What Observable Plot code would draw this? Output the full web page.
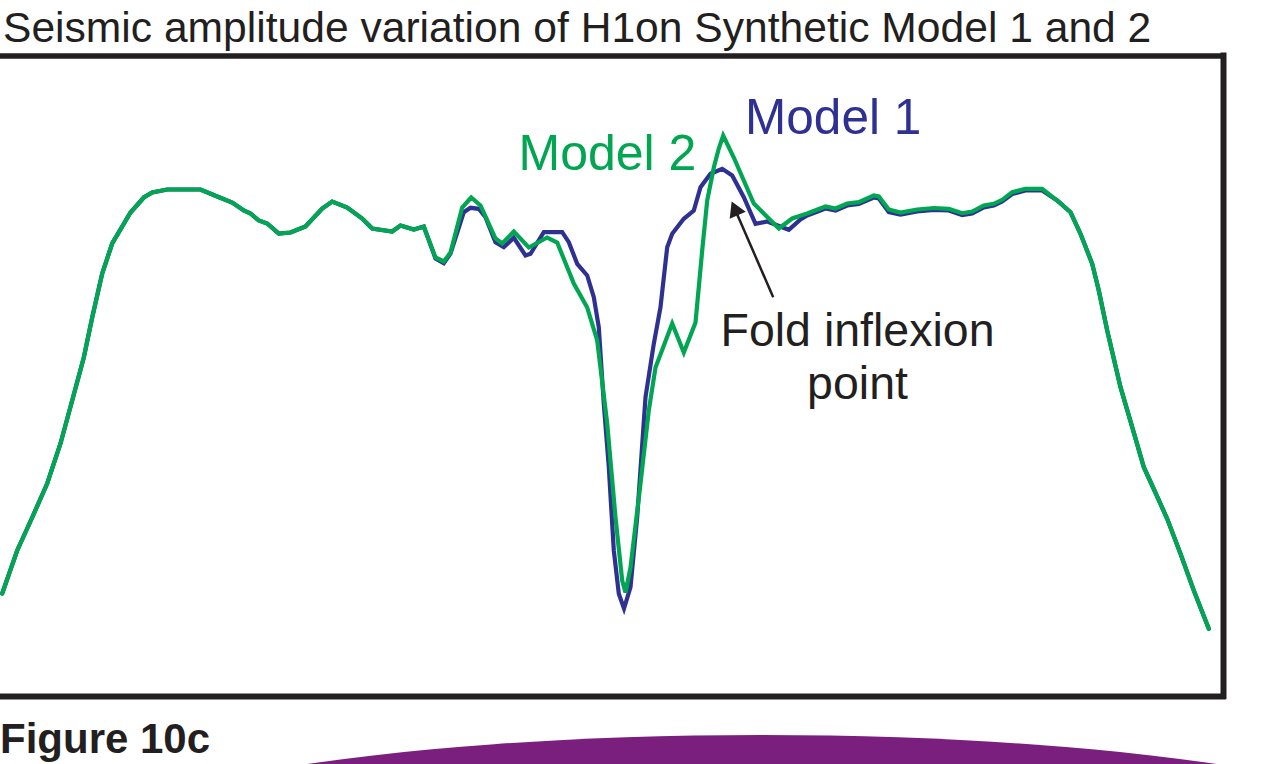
<!DOCTYPE html>
<html>
<head>
<meta charset="utf-8">
<script src="https://cdn.jsdelivr.net/npm/d3@7"></script>
<script src="https://cdn.jsdelivr.net/npm/@observablehq/plot@0.6"></script>
<style>
  html, body { margin: 0; padding: 0; width: 1261px; height: 764px; overflow: hidden; background: #fff; }
  body { position: relative; font-family: "Liberation Sans", Arial, Helvetica, sans-serif; }
  #title { position: absolute; left: 3px; top: 6px; font-size: 42.6px; line-height: 42px; color: #231F20; white-space: nowrap; }
  #fig { position: absolute; left: 0px; top: 717.5px; font-size: 42px; line-height: 42px; font-weight: bold; color: #231F20; white-space: nowrap; }
  #arc { position: absolute; left: 62px; top: 735px; width: 1400px; height: 242px; border-radius: 50%; background: #7A1F7E; }
  #chart { position: absolute; left: 0; top: 50px; }
</style>
</head>
<body>
<div id="title">Seismic amplitude variation of H1on Synthetic Model 1 and 2</div>
<div id="chart"></div>
<div id="fig">Figure 10c</div>
<div id="arc"></div>
<script>
// Distance along the section (arbitrary units) and amplitude (arbitrary units).
const sharedLeftX   = [1.7, 16.7, 31.7, 46.7, 60, 71.7, 83.3, 91.7, 101.7, 111.7, 130, 143.3, 151.7, 166.7, 200, 216.7, 231.7, 243.3, 250, 258.3, 266.7, 278.3, 290, 305, 321.7, 331.7, 346.7, 361.7, 371.7, 391.7, 400, 413.3, 423.3];
const sharedLeftAmp = [103, 146, 179, 213, 253, 296, 339, 379, 423, 453, 484, 499, 504, 507, 507, 500, 494, 486, 483, 476, 473, 463, 464, 470, 488, 495, 489, 478, 468, 465, 471, 467, 470];

const model1MidX   = [435, 443.3, 450, 463.3, 470, 478.3, 485, 495, 503.3, 513.3, 525, 530, 543.3, 561.7, 568.3, 576.7, 586.7, 593.3, 598.3, 603.3, 608.3, 613.3, 618.3, 623.5, 630, 636.7, 645, 653.3, 660, 666.7, 671.7, 683.3, 693.3, 700, 710, 721.7, 731.7, 743.3, 755, 766.7, 788.3, 800, 806.7, 825, 835, 846.7, 858.3, 873.3, 878.3, 888.3, 900, 916.7, 933.3, 948.3, 961.7, 971.7, 983.3, 993.3, 1001.7, 1011.7, 1025, 1041.7];
const model1MidAmp = [438, 433.3, 443, 484.3, 488.7, 487.7, 479.3, 454.3, 449.3, 458.7, 441, 442.7, 464.3, 464.3, 454.3, 432.7, 421, 399.3, 369.3, 292.7, 229.3, 146, 102.7, 88, 109.3, 179.3, 299.3, 352.7, 389.3, 449.3, 462.7, 477.7, 486, 509.3, 522.7, 527.7, 521, 499.3, 472.7, 475, 466.7, 477, 481, 488, 486, 491, 492.5, 499, 498, 484.5, 482, 485, 486.5, 486, 481.5, 483, 489, 491, 495, 502.5, 506, 506];

const model2MidX   = [435, 443.3, 450, 461.7, 470.7, 480, 495, 501.7, 513.3, 528.3, 546.7, 556.7, 573.3, 586.7, 596.7, 606.7, 615, 621.7, 625, 630, 640, 648.3, 655, 671.7, 683.3, 695, 701.7, 706.7, 713.3, 718.3, 722.7, 733.3, 753.3, 778.3, 791.7, 806.7, 825, 835, 846.7, 858.3, 873.3, 878.3, 888.3, 900, 916.7, 933.3, 948.3, 961.7, 971.7, 983.3, 993.3, 1001.7, 1011.7, 1025, 1041.7];
const model2MidAmp = [439, 435, 444, 489, 499, 491, 458, 453, 465, 449, 459, 454, 413, 389, 356, 273, 179, 116, 104, 129, 213, 286, 329, 373, 344, 374, 446, 496, 529, 548, 561, 539, 493, 468, 478, 483, 490, 488, 493, 494.3, 501, 500, 487, 484, 487, 488.5, 487.7, 483.3, 485, 491, 492.7, 496.7, 504.3, 507.7, 507.7];

const sharedRightX   = [1056.7, 1070, 1080, 1091.7, 1098.3, 1106.7, 1120, 1131.7, 1143.3, 1151.7, 1166.7, 1180, 1193.3, 1208.3];
const sharedRightAmp = [496, 484.3, 462.7, 432.7, 406, 366, 309.3, 269.3, 229.3, 211, 177.7, 142.7, 106, 67.7];

const labelTexts = ["Model 1", "Model 2", "Fold inflexion\npoint"];
const frameX = [0, 1223];
const frameAmp = [0, 640.5];

const rows = (xs, as) => xs.map((x, i) => ({x, a: as[i]}));
const model1 = [...rows(sharedLeftX, sharedLeftAmp), ...rows(model1MidX, model1MidAmp), ...rows(sharedRightX, sharedRightAmp)];
const model2 = [...rows(sharedLeftX, sharedLeftAmp), ...rows(model2MidX, model2MidAmp), ...rows(sharedRightX, sharedRightAmp)];

const blue = "#2E3192", green = "#00A651", ink = "#231F20";

const chart = Plot.plot({
  width: 1261,
  height: 655,
  marginLeft: 0,
  marginRight: 38,
  marginTop: 5.5,
  marginBottom: 9,
  x: {domain: frameX, axis: null},
  y: {domain: frameAmp, axis: null},
  style: {fontFamily: "'Liberation Sans', Arial, Helvetica, sans-serif", background: "transparent", overflow: "visible"},
  marks: [
    Plot.line(model1, {x: "x", y: "a", stroke: blue, strokeWidth: 4.2, strokeLinejoin: "miter", strokeMiterlimit: 6}),
    Plot.line(model2, {x: "x", y: "a", stroke: green, strokeWidth: 4.2, strokeLinejoin: "miter", strokeMiterlimit: 4}),
    Plot.link([{x1: 772.7, y1: 399.3, x2: 735, y2: 486}], {x1: "x1", y1: "y1", x2: "x2", y2: "y2", stroke: ink, strokeWidth: 2.5}),
    Plot.dot([{x: 735.2, a: 485.8}], {x: "x", y: "a", symbol: "triangle", r: 6.5, fill: ink, stroke: "none", rotate: -23.5}),
    Plot.text([{x: 744.6, a: 562.7, t: labelTexts[0]}], {x: "x", y: "a", text: "t", fill: blue, fontSize: 49.5, textAnchor: "start", lineAnchor: "bottom"}),
    Plot.text([{x: 518, a: 526.7, t: labelTexts[1]}], {x: "x", y: "a", text: "t", fill: green, fontSize: 50, textAnchor: "start", lineAnchor: "bottom"}),
    Plot.text([{x: 857, a: 298, t: labelTexts[2]}], {x: "x", y: "a", text: "t", fill: ink, fontSize: 46.5, textAnchor: "middle", lineAnchor: "bottom", lineHeight: 1.14}),
    Plot.ruleY([frameAmp[1]], {stroke: ink, strokeWidth: 5.5, strokeLinecap: "square"}),
    Plot.ruleY([frameAmp[0]], {stroke: ink, strokeWidth: 6, strokeLinecap: "square"}),
    Plot.ruleX([frameX[1]], {stroke: ink, strokeWidth: 6, strokeLinecap: "square"})
  ]
});
document.getElementById("chart").appendChild(chart);
</script>
</body>
</html>
